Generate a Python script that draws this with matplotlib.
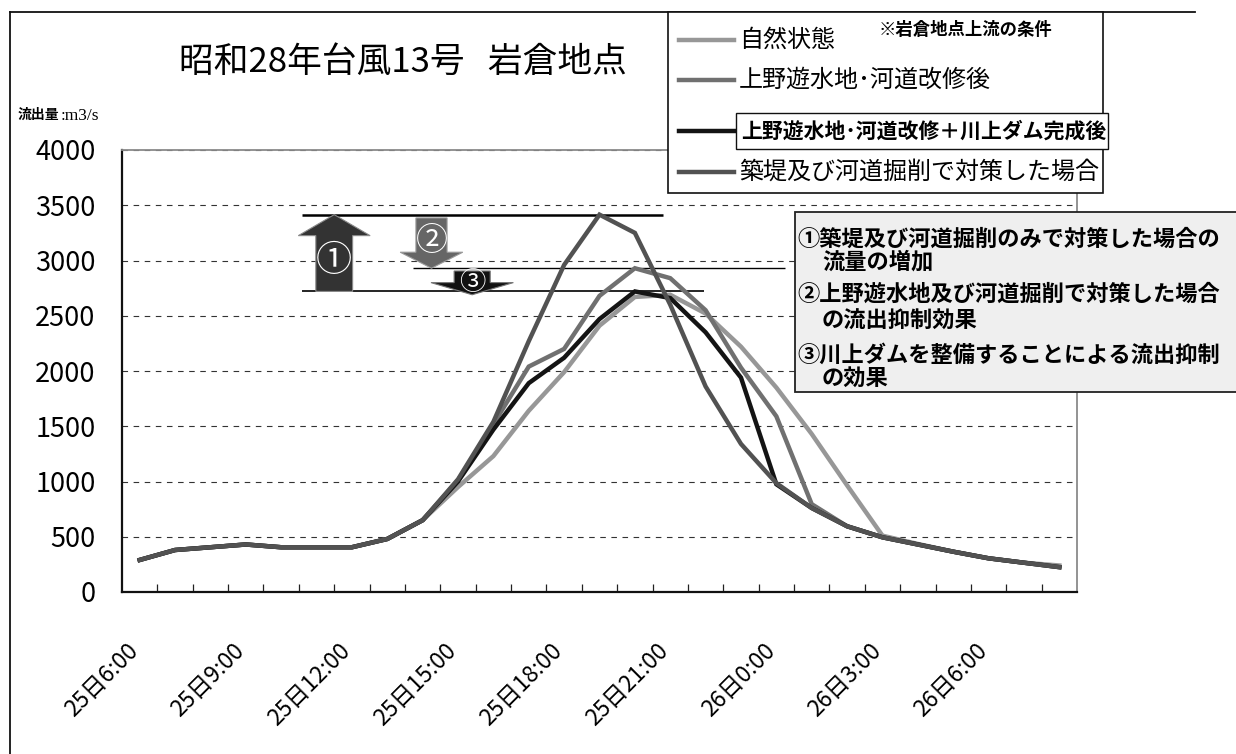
import numpy as np
import matplotlib.pyplot as plt
from matplotlib.lines import Line2D
from matplotlib.patches import Rectangle, FancyArrow
from matplotlib.transforms import ScaledTranslation

plt.rcParams['font.family'] = ['Noto Sans CJK JP', 'DejaVu Sans']

# hourly steps from 25th 6:00 to 26th 8:00
times = [f'25日{h}:00' for h in range(6, 24)] + [f'26日{h}:00' for h in range(0, 9)]

natural = [290, 380, 405, 430, 405, 405, 405, 480, 650, 950, 1230, 1640, 1990, 2410,
           2670, 2690, 2520, 2220, 1850, 1430, 965, 510, 435, 365, 305, 265, 240]
ueno = [290, 380, 405, 430, 405, 405, 405, 480, 650, 1010, 1520, 2040, 2200, 2680,
        2930, 2840, 2550, 2030, 1590, 795, 595, 495, 430, 365, 305, 265, 225]
kawakami = [290, 380, 405, 430, 405, 405, 405, 480, 650, 1000, 1470, 1890, 2120, 2470,
            2720, 2660, 2350, 1940, 975, 760, 595, 495, 430, 365, 305, 265, 225]
chikutei = [290, 380, 405, 430, 405, 405, 405, 480, 650, 1020, 1540, 2270, 2960, 3415,
            3250, 2600, 1860, 1340, 985, 760, 595, 495, 430, 365, 305, 265, 225]

series_names = ['自然状態', '上野遊水地･河道改修後',
                '上野遊水地･河道改修＋川上ダム完成後', '築堤及び河道掘削で対策した場合']
series_colors = ['#979797', '#707070', '#141414', '#525252']

notes = ['①築堤及び河道掘削のみで対策した場合の', '流量の増加',
         '②上野遊水地及び河道掘削で対策した場合', 'の流出抑制効果',
         '③川上ダムを整備することによる流出抑制', 'の効果']

W, H = 1236, 754
fig = plt.figure(figsize=(W / 100, H / 100), dpi=100)


def fx(px):
    return px / W


def fy(py):
    return 1 - py / H


ax = fig.add_axes([fx(122), fy(592), fx(1077) - fx(122), fy(150) - fy(592)])
x = np.arange(len(times))

for data, col in zip([natural, ueno, kawakami, chikutei], series_colors):
    ax.plot(x, data, color=col, lw=3.2, solid_joinstyle='miter', zorder=3)

ax.set_xlim(-0.5, len(times) - 0.5)
ax.set_ylim(0, 4000)
ax.set_yticks(np.arange(0, 4001, 500))
ax.tick_params(axis='y', length=0, pad=19, labelsize=19.5)
ax.yaxis.grid(True, linestyle=(0, (5, 5)), color='#333333', lw=0.8)
ax.set_axisbelow(True)

# category boundaries get the small inward ticks, labels every 3 hours
ax.set_xticks(np.arange(0.5, len(times) - 1, 1), minor=True)
ax.tick_params(axis='x', which='minor', direction='in', length=5.5, width=0.9, color='#222222')
ax.set_xticks(x[::3])
ax.set_xticklabels(times[::3], rotation=45, ha='right', va='center',
                   rotation_mode='anchor', fontsize=16.5)
ax.tick_params(axis='x', which='major', length=0, pad=40)
for lab in ax.get_xticklabels():
    lab.set_transform(lab.get_transform() + ScaledTranslation(-0.05, 0, fig.dpi_scale_trans))

for side in ['left', 'bottom']:
    ax.spines[side].set_color('#111111')
    ax.spines[side].set_linewidth(1.6)
for side in ['top', 'right']:
    ax.spines[side].set_color('#8a8a8a')
    ax.spines[side].set_linewidth(1.3)

# peak reference lines and the effect arrows between them
p1, p2, p3 = max(chikutei), max(ueno), max(kawakami)
ax.hlines(p1, 4.6, 14.8, color='black', lw=1.8, zorder=2)
ax.hlines(p2, 7.73, 18.24, color='black', lw=1.0, zorder=2)
ax.hlines(p3, 4.6, 15.95, color='black', lw=1.2, zorder=2)

ax.add_patch(FancyArrow(5.5, p3, 0, p1 - p3, width=1.04, head_width=2.03, head_length=190,
                        length_includes_head=True, fc='#333333', ec='#8a8a8a', lw=0.8, zorder=4))
ax.add_patch(FancyArrow(8.25, p1 - 30, 0, p2 - p1 + 30, width=0.88, head_width=1.77,
                        head_length=145, length_includes_head=True,
                        fc='#666666', ec='#9a9a9a', lw=0.8, zorder=4))
ax.add_patch(FancyArrow(9.4, p2 - 25, 0, p3 - p2 - 5, width=1.02, head_width=2.33,
                        head_length=110, length_includes_head=True,
                        fc='#111111', ec='#777777', lw=0.8, zorder=4))
ax.text(5.5, 3000, '①', color='white', fontsize=26, ha='center', va='center', zorder=5)
ax.text(8.25, 3180, '②', color='white', fontsize=23, ha='center', va='center', zorder=5)
ax.text(9.4, 2800, '③', color='white', fontsize=19, ha='center', va='center', zorder=5)

# outer frame
fig.add_artist(Line2D([fx(10), fx(10)], [fy(12), fy(754)], color='#111111', lw=1.3))
fig.add_artist(Line2D([fx(10), fx(1195)], [fy(12), fy(12)], color='#111111', lw=1.3))

fig.text(fx(403), fy(62), '昭和28年台風13号   岩倉地点', fontsize=25, ha='center', va='center')
fig.text(fx(18), fy(115), '流出量', fontsize=10, fontweight='bold', ha='left', va='center')
fig.text(fx(61), fy(116), ':m3/s', fontsize=12.5, family='Liberation Serif',
         ha='left', va='center')

# legend box
fig.add_artist(Rectangle((fx(668), fy(193)), fx(1103) - fx(668), fy(12) - fy(193),
                         transform=fig.transFigure, fc='white', ec='#111111', lw=1.2, zorder=5))
rows = [40, 80, 131, 172]
for name, col, ry in zip(series_names, series_colors, rows):
    fig.add_artist(Line2D([fx(679), fx(734)], [fy(ry), fy(ry)], color=col, lw=3.2, zorder=6))
    if col == '#141414':
        fig.add_artist(Rectangle((fx(736), fy(149)), fx(1108) - fx(736), fy(113) - fy(149),
                                 transform=fig.transFigure, fc='white', ec='#111111',
                                 lw=1.0, zorder=6))
        fig.text(fx(741), fy(ry), name, fontsize=15, fontweight='bold',
                 ha='left', va='center', zorder=7)
    else:
        fig.text(fx(739), fy(ry), name, fontsize=17.3, ha='left', va='center', zorder=7)
fig.text(fx(879), fy(30), '※岩倉地点上流の条件', fontsize=12.5, fontweight='bold',
         ha='left', va='center', zorder=7)

# explanation box for the arrows
fig.add_artist(Rectangle((fx(795), fy(392)), fx(1245) - fx(795), fy(212) - fy(392),
                         transform=fig.transFigure, fc='#efefef', ec='#222222', lw=1.3, zorder=5))
note_y = [239, 262, 294, 321, 355, 378]
for i, (txt, ny) in enumerate(zip(notes, note_y)):
    fig.text(fx(797 if i % 2 == 0 else 822), fy(ny), txt, fontsize=16, fontweight='bold',
             ha='left', va='center', zorder=7)

fig.savefig('out.png', dpi=100)
